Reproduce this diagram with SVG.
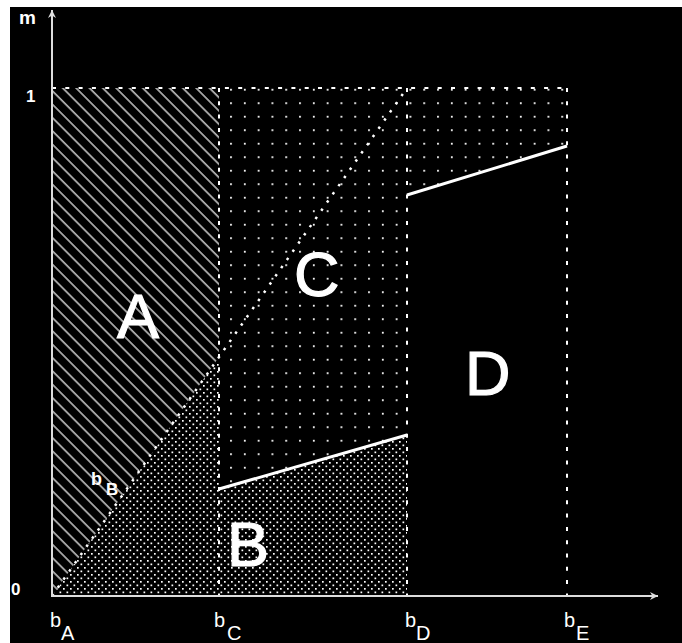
<svg xmlns="http://www.w3.org/2000/svg" width="682" height="643" viewBox="0 0 682 643">
<style>
.lbl{font-family:"Liberation Sans",Arial,sans-serif;fill:#fff}
.big{font-size:63px;stroke:#fff;stroke-width:1.2}
.ax{font-size:20px}
.dash{stroke:#fff;stroke-width:2;fill:none;stroke-dasharray:4 9.3}
.axis{stroke:#ddd;stroke-width:2;fill:none}
.solid{stroke:#fff;stroke-width:3;fill:none}
</style>
<defs>
<pattern id="hatch" patternUnits="userSpaceOnUse" width="9.43" height="10" patternTransform="rotate(-45)">
<line x1="1" y1="0" x2="1" y2="10" stroke="#fff" stroke-width="1.2"/>
</pattern>
<pattern id="dense" patternUnits="userSpaceOnUse" width="7" height="7">
<rect x="0" y="0" width="1.7" height="1.7" fill="#fff"/>
<rect x="3.5" y="3.5" width="1.7" height="1.7" fill="#fff"/>
</pattern>
<pattern id="sparse" patternUnits="userSpaceOnUse" x="423.3" y="102.3" width="13.8" height="13.5">
<rect x="0" y="0" width="1.8" height="1.8" fill="#fff"/>
</pattern>
<marker id="arr" viewBox="0 0 10 10" refX="10" refY="5" markerWidth="8" markerHeight="8" orient="auto" markerUnits="userSpaceOnUse">
<path d="M0,0 L10,5 L0,10 L3,5 Z" fill="#ddd"/>
</marker>
</defs>
<rect x="0" y="0" width="682" height="643" fill="#fff"/>
<rect x="10" y="7" width="672" height="636" fill="#000"/>

<g id="regionA">
<polygon points="52,88 219,88 219,357 52,596" fill="url(#hatch)"/>
<text class="lbl big" x="117" y="338">A</text>
</g>
<g id="regionB">
<polygon points="52,596 219,357 219,489 407,435 407,596" fill="url(#dense)"/>
<text class="lbl big" x="227" y="566">B</text>
</g>
<g id="regionC">
<polygon points="219,88 567,88 567,146 407,195 407,435 219,489" fill="url(#sparse)"/>
<text class="lbl big" x="294" y="296">C</text>
</g>
<g id="regionD">
<text class="lbl big" x="465" y="395">D</text>
</g>

<g id="connectors">
<line class="dash" x1="52" y1="88" x2="567" y2="88"/>
<line class="dash" x1="219" y1="88" x2="219" y2="596"/>
<line class="dash" x1="407" y1="88" x2="407" y2="596"/>
<line class="dash" x1="567" y1="88" x2="567" y2="596"/>
<line x1="52" y1="596" x2="407" y2="88" stroke="#fff" stroke-width="2.5" stroke-dasharray="2.5 7.5"/>
<line class="solid" x1="219" y1="489" x2="407" y2="435"/>
<line class="solid" x1="407" y1="195" x2="567" y2="146"/>
</g>

<g id="axes">
<line class="axis" x1="52" y1="597" x2="52" y2="10" marker-end="url(#arr)"/>
<line class="axis" x1="51" y1="596" x2="658" y2="596" marker-end="url(#arr)"/>
<text class="lbl" x="19" y="24" font-size="19" font-weight="bold">m</text>
<text class="lbl" x="26" y="102" font-size="17" font-weight="bold">1</text>
<text class="lbl" x="11" y="595" font-size="17" font-weight="bold">0</text>
</g>

<g id="labels">
<text class="lbl ax" x="50" y="627">b</text><text class="lbl ax" x="61" y="640">A</text>
<text class="lbl ax" x="214" y="627">b</text><text class="lbl ax" x="227" y="640">C</text>
<text class="lbl ax" x="405" y="627">b</text><text class="lbl ax" x="416" y="640">D</text>
<text class="lbl ax" x="564" y="627">b</text><text class="lbl ax" x="576" y="640">E</text>
<text class="lbl" x="91" y="485" font-size="18" font-weight="bold">b</text><text class="lbl" x="106" y="495" font-size="17" font-weight="bold">B</text>
</g>
</svg>
